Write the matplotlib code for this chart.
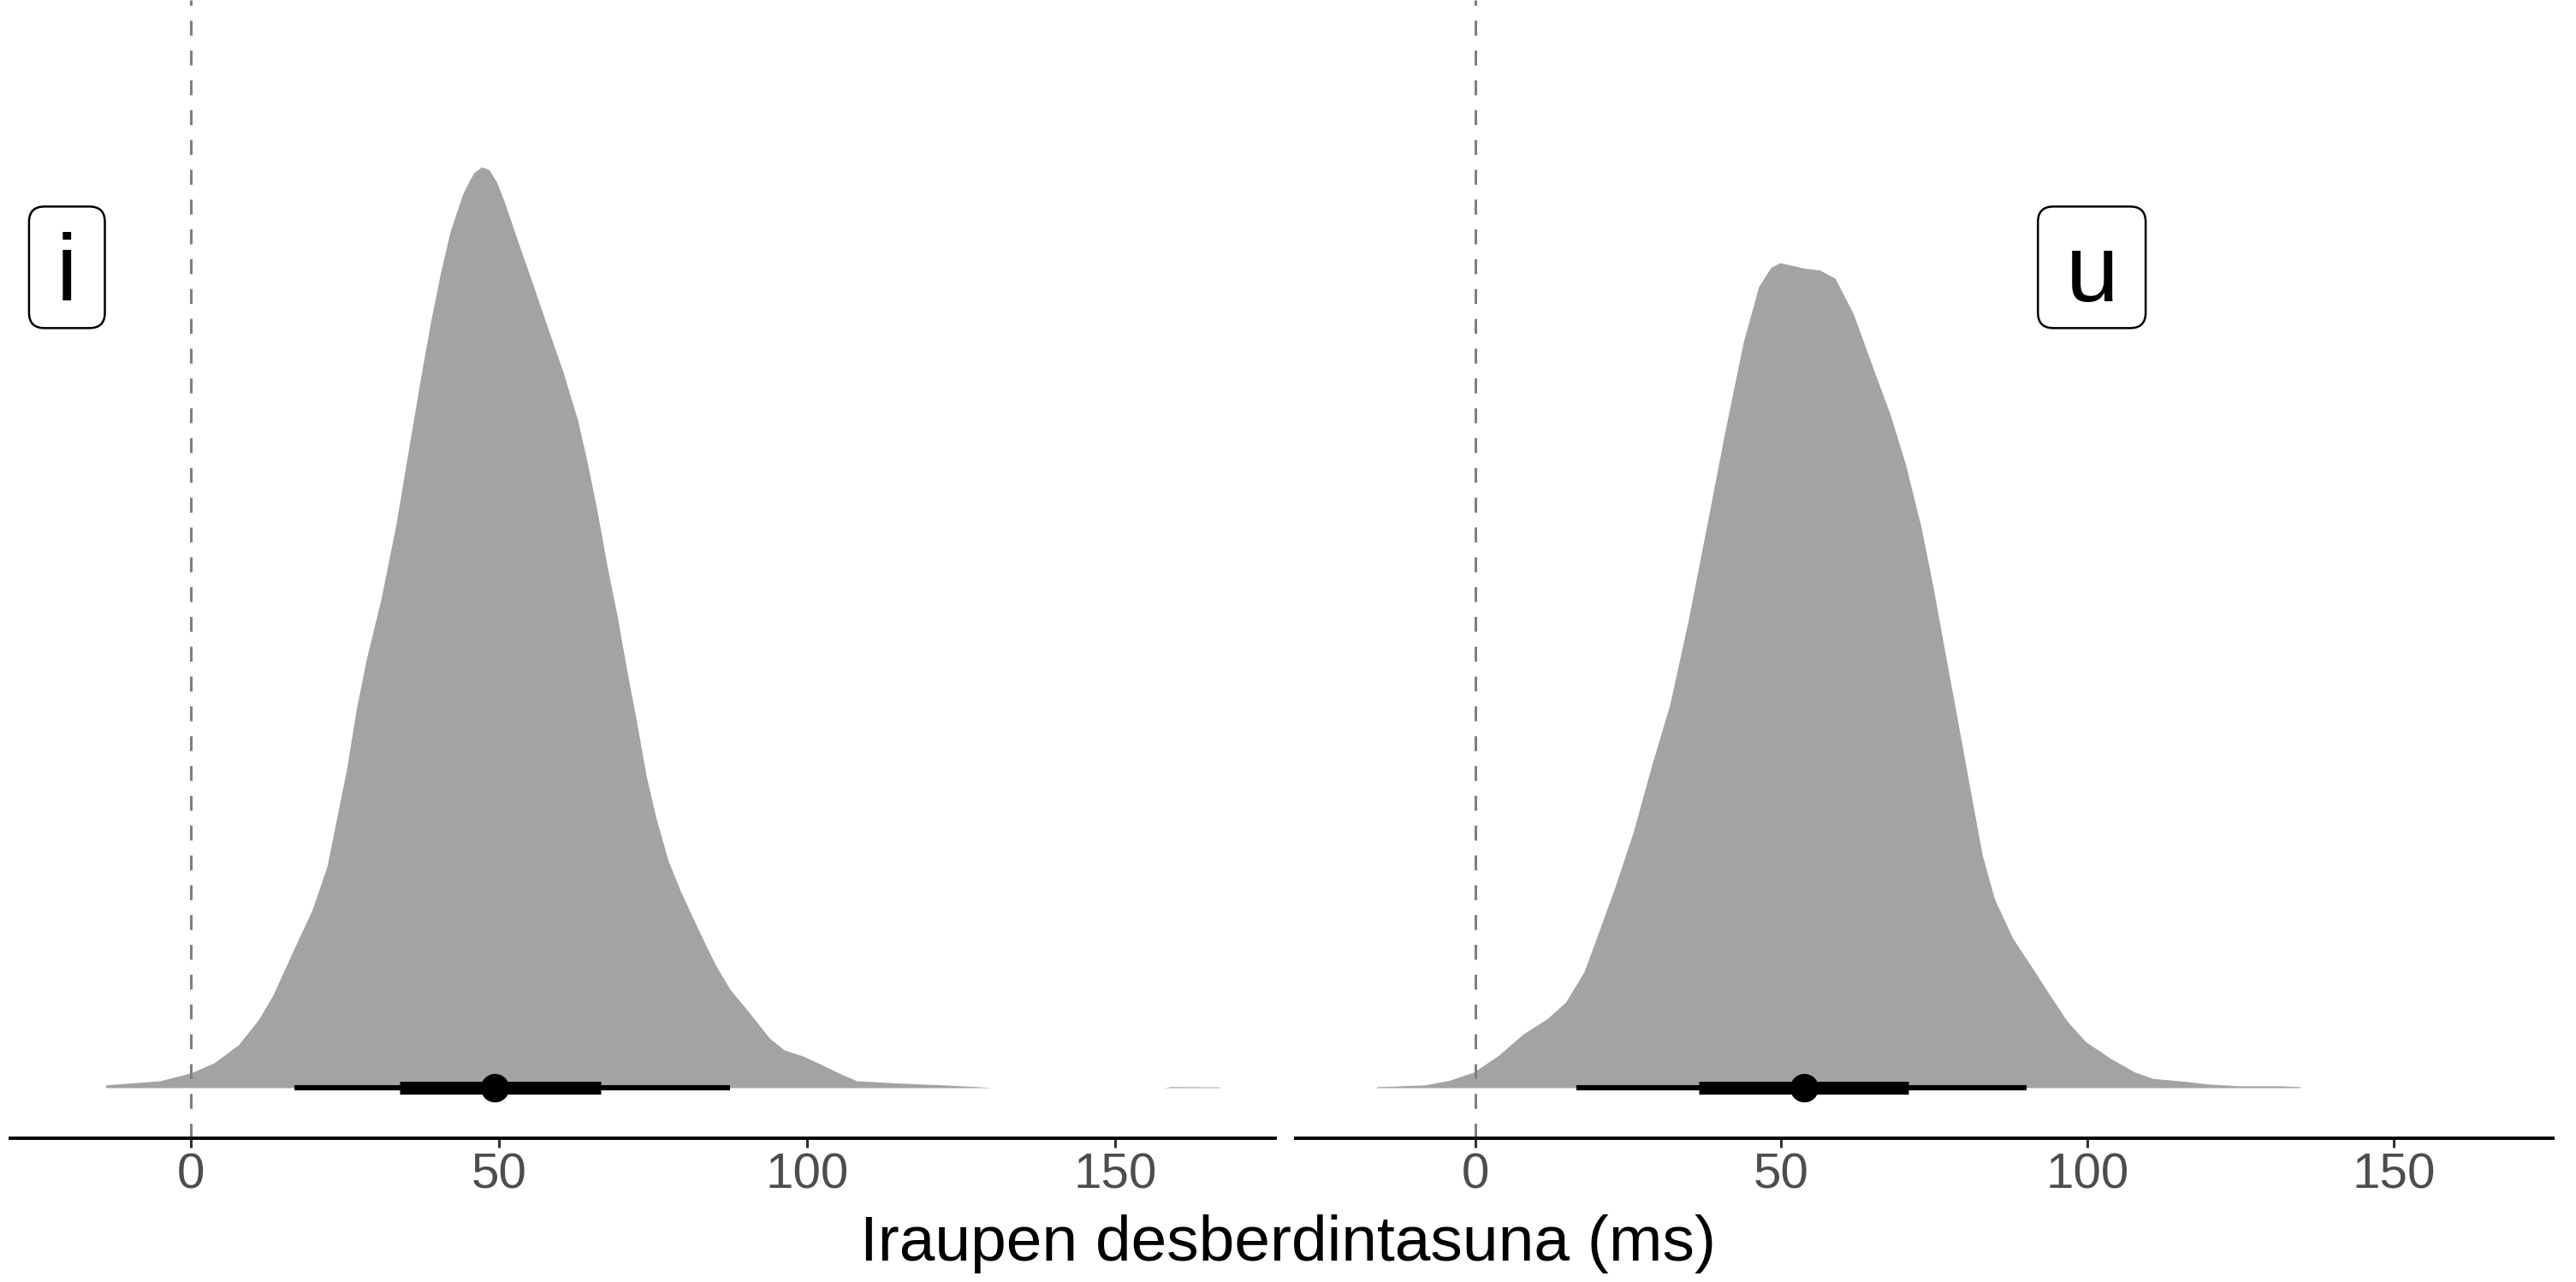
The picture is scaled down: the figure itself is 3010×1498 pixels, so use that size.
import matplotlib.pyplot as plt
from matplotlib.patches import FancyBboxPatch
from matplotlib.transforms import ScaledTranslation

plt.rcParams["font.family"] = ["Liberation Sans", "DejaVu Sans"]

ticks = [0, 50, 100, 150]
xlabel = "Iraupen desberdintasuna (ms)"
panel_labels = ["i", "u"]

# posterior of the difference, vowel i (heights relative to the tallest slab)
i_x = [-13.8, -5.0, 0.0, 3.8, 7.8, 11.0, 13.3, 16.5, 19.7, 22.1, 23.7, 25.3,
       26.9, 28.5, 30.9, 33.3, 35.3, 37.3, 38.9, 40.5, 42.1, 44.1, 45.2, 46.0,
       47.2, 48.4, 49.6, 50.8, 53.2, 55.6, 58.0, 60.4, 62.8, 64.4, 66.0, 67.6,
       69.2, 70.8, 72.3, 73.9, 75.5, 77.5, 79.5, 82.7, 85.1, 87.5, 90.7, 93.9,
       96.3, 99.5, 102.7, 105.8, 108.1, 115.0, 122.0, 128.0, 130.0, 158.0,
       159.0, 167.0]
i_dens = [0.003, 0.0075, 0.016, 0.027, 0.047, 0.074, 0.100, 0.147, 0.193,
          0.240, 0.293, 0.346, 0.412, 0.465, 0.531, 0.611, 0.691, 0.770,
          0.830, 0.883, 0.929, 0.969, 0.984, 0.993, 0.999, 0.996, 0.983,
          0.963, 0.916, 0.870, 0.823, 0.777, 0.724, 0.677, 0.624, 0.565,
          0.512, 0.452, 0.399, 0.339, 0.293, 0.246, 0.213, 0.167, 0.134,
          0.107, 0.081, 0.054, 0.041, 0.034, 0.024, 0.014, 0.0075, 0.005,
          0.003, 0.001, 0.0, 0.0, 0.0012, 0.0008]
i_median = 49.3
i_inner = [33.9, 66.5]
i_outer = [16.8, 87.5]

# vowel u
u_x = [-16.1, -8.2, -4.2, -0.2, 3.8, 7.8, 11.8, 14.8, 17.8, 19.8, 22.8, 25.8,
       28.8, 31.8, 34.8, 37.8, 40.8, 43.8, 46.3, 48.3, 49.8, 51.8, 53.8, 56.3,
       58.8, 61.8, 64.8, 67.8, 70.3, 72.8, 74.8, 76.8, 78.8, 80.8, 82.8, 84.8,
       87.8, 90.8, 93.7, 96.7, 99.7, 103.7, 107.7, 110.7, 115.7, 119.7, 124.7,
       131.7, 134.8]
u_dens = [0.001, 0.003, 0.008, 0.017, 0.035, 0.058, 0.075, 0.093, 0.126,
          0.162, 0.217, 0.277, 0.349, 0.416, 0.507, 0.609, 0.712, 0.809,
          0.869, 0.890, 0.895, 0.892, 0.889, 0.887, 0.878, 0.839, 0.784,
          0.730, 0.676, 0.609, 0.543, 0.470, 0.398, 0.325, 0.253, 0.205,
          0.162, 0.132, 0.102, 0.072, 0.050, 0.032, 0.017, 0.010, 0.007,
          0.004, 0.002, 0.002, 0.001]
u_median = 53.7
u_inner = [36.5, 70.8]
u_outer = [16.5, 90.0]

label_pos = [(-20.1, 0.89), (100.7, 0.89)]

fig = plt.figure(figsize=(15.05, 7.49), dpi=200)
ax_i = fig.add_axes([12 / 3010, 168 / 1498, 1478 / 3010, 1330 / 1498])
ax_u = fig.add_axes([1514 / 3010, 168 / 1498, 1469 / 3010, 1330 / 1498])

panels = [
    (ax_i, i_x, i_dens, i_median, i_inner, i_outer),
    (ax_u, u_x, u_dens, u_median, u_inner, u_outer),
]

for k, (ax, xs, dens, med, inner, outer) in enumerate(panels):
    ax.fill_between(xs, 0, dens, color="#a3a3a3", linewidth=0, zorder=1)
    ax.axvline(0, color="#7f7f7f", linewidth=1.1, linestyle=(0, (5.7, 5.7)), zorder=2)

    ax.plot(outer, [0, 0], color="black", linewidth=2.2, solid_capstyle="butt", zorder=3)
    ax.plot(inner, [0, 0], color="black", linewidth=5.4, solid_capstyle="butt", zorder=4)
    ax.plot([med], [0], "o", color="black", markersize=11, zorder=5)

    ax.set_xlim(-29.3, 176)
    ax.set_ylim(-0.0548, 1.18)
    ax.set_xticks(ticks)
    ax.set_xticklabels([str(t) for t in ticks])
    ax.set_yticks([])
    for side in ["left", "right", "top"]:
        ax.spines[side].set_visible(False)
    ax.spines["bottom"].set_linewidth(1.4)
    ax.tick_params(axis="x", length=4, width=1.1, color="#333333",
                   labelsize=21, labelcolor="#4d4d4d", pad=2)

    lx, ly = label_pos[k]
    txt = ax.annotate(panel_labels[k], (lx, ly), xytext=(0, -40 * 0.716 / 2),
                      textcoords="offset points", ha="center", va="baseline",
                      fontsize=40, color="black", zorder=7)
    fig.canvas.draw()
    tw = txt.get_window_extent().width / fig.dpi
    bw = tw + 2 * 0.16
    bh = 0.71
    trans = fig.dpi_scale_trans + ScaledTranslation(lx, ly, ax.transData)
    box = FancyBboxPatch((-bw / 2, -bh / 2), bw, bh,
                         boxstyle="round,pad=0,rounding_size=0.09",
                         facecolor="white", edgecolor="black", linewidth=0.9,
                         transform=trans, zorder=6, clip_on=False)
    ax.add_patch(box)

fig.text(0.5, 25 / 1498, xlabel, ha="center", va="baseline", fontsize=27, color="black")

fig.savefig("out.png", dpi=200)
